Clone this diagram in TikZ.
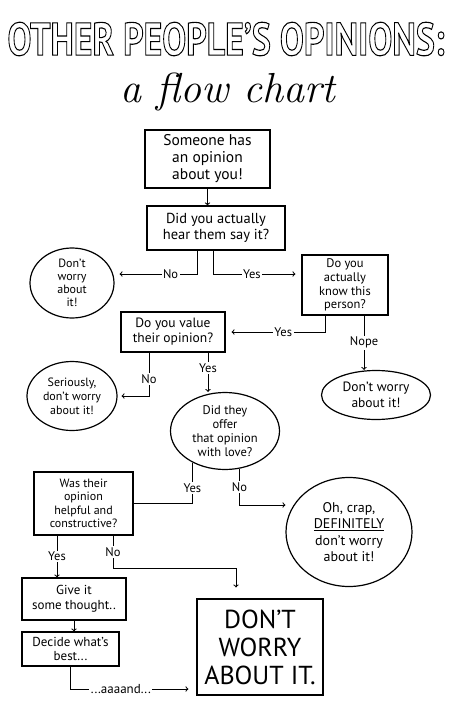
\documentclass[tikz,border=0pt]{standalone}
\usepackage{fontspec}
\setmainfont{PT Sans}
\newfontfamily\scriptface{Latin Modern Roman}
\usetikzlibrary{shapes.geometric}
\newcommand{\fs}[2]{\fontsize{#1}{#2}\selectfont}
\newcommand{\outlined}[1]{\special{pdf:literal direct 1 Tr 1.1 w}#1\special{pdf:literal direct 0 Tr}}
\tikzset{
  qbox/.style={draw, line width=1.2pt, align=center, inner sep=2pt},
  bubble/.style={draw, ellipse, line width=1.2pt, align=center, inner sep=0pt},
  lbl/.style={fill=white, inner sep=1.5pt, font=\fs{12.5}{13}},
  flow/.style={line width=1pt, ->}
}

\begin{document}
\begin{tikzpicture}[x=1pt,y=-1pt]
    \useasboundingbox (0,0) rectangle (450,707);
    % Title
    \node[inner sep=0pt] (title) at (226,39)
      {\resizebox{437pt}{33pt}{\bfseries\fs{46}{46}\outlined{OTHER PEOPLE’S OPINIONS:}}};
    \node[font=\scriptface\itshape\fs{42}{42}] (sub) at (228,92) {a flow chart};
    % Questions
    \node[qbox, minimum width=125pt, minimum height=58pt, font=\fs{15.5}{17}]
      (someone) at (207.5,159) {Someone has\\an opinion\\about you!};
    \node[qbox, minimum width=138pt, minimum height=44pt, font=\fs{14.5}{16}]
      (heard) at (216,228) {Did you actually\\hear them say it?};
    \node[qbox, minimum width=86pt, minimum height=60pt, font=\fs{12.5}{13.8}]
      (know) at (345,285) {Do you\\actually\\know this\\person?};
    \node[qbox, minimum width=104pt, minimum height=40pt, font=\fs{13.5}{15}]
      (value) at (173,332) {Do you value\\their opinion?};
    \node[bubble, minimum width=109pt, minimum height=77pt, font=\fs{12.5}{14}]
      (love) at (225,431) {Did they\\offer\\that opinion\\with love?};
    \node[qbox, minimum width=99pt, minimum height=63pt, font=\fs{12}{13.5}]
      (helpful) at (83.5,503.5) {Was their\\opinion\\helpful and\\constructive?};
    \node[qbox, minimum width=104pt, minimum height=42pt, font=\fs{13}{15}]
      (thought) at (74,599) {Give it\\some thought..};
    \node[qbox, minimum width=97pt, minimum height=34pt, font=\fs{13}{14}]
      (decide) at (70.5,649) {Decide what’s\\best...};
    % Answers
    \node[bubble, minimum width=84pt, minimum height=70pt, font=\fs{12}{13}]
      (dwa1) at (72,283) {Don’t\\worry\\about\\it!};
    \node[bubble, minimum width=90pt, minimum height=69pt, font=\fs{12}{14}]
      (serious) at (72,396) {Seriously,\\don’t worry\\about it!};
    \node[bubble, minimum width=109pt, minimum height=49pt, font=\fs{13.5}{15.5}]
      (dwa2) at (376,395) {Don’t worry\\about it!};
    \node[bubble, minimum width=126pt, minimum height=109pt, font=\fs{14}{16.5}]
      (crap) at (349,532) {Oh, crap,\\\underline{DEFINITELY}\\don’t worry\\about it!};
    \node[qbox, minimum width=126pt, minimum height=96pt, font=\fs{26}{28}]
      (final) at (260,647) {DON’T\\WORRY\\ABOUT IT.};
    % Connectors
    \draw[flow] (someone) -- (someone |- heard.north);
    \draw[flow, shorten >=5pt] ([xshift=-19pt]heard.south)
      |- node[lbl,pos=0.66] {No} ([yshift=9pt]dwa1.east);
    \draw[flow, shorten >=6pt] ([xshift=-3pt]heard.south)
      |- node[lbl,pos=0.72] {Yes} ([yshift=11pt]know.west);
    \draw[flow, shorten >=6pt] ([xshift=-20pt]know.south)
      |- node[lbl,pos=0.71] {Yes} (value.east);
    \draw[flow] ([xshift=19pt]know.south)
      -- node[lbl] {Nope} ([xshift=19pt]know.south |- dwa2.north);
    \draw[flow, shorten >=4pt] ([xshift=-24pt]value.south)
      |- node[lbl,pos=0.3] {No} (serious.east);
    \draw[flow] ([xshift=35pt]value.south)
      -- node[lbl,pos=0.4] {Yes} ([xshift=35pt]value.south |- love.north);
    \draw[line width=1pt] (love.224)
      |- node[lbl,pos=0.31] {Yes} (helpful.east);
    \draw[flow] (love.291)
      |- node[lbl,pos=0.25] {No} ([yshift=27pt]crap.west);
    \draw[flow] ([xshift=-26.5pt]helpful.south)
      -- node[lbl] {Yes} ([xshift=-26.5pt]helpful.south |- thought.north);
    \draw[flow] ([xshift=29.5pt]helpful.south)
      -- node[lbl] {No} ++(0,33) -| ([xshift=-24pt,yshift=11pt]final.north);
    \draw[flow] (thought) -- (thought |- decide.north);
    \draw[flow, shorten >=8pt] (decide)
      |- node[lbl,pos=0.7,font=\fs{13}{13}] {...aaaand...} ([yshift=-42pt]final.west);
\end{tikzpicture}
\end{document}
